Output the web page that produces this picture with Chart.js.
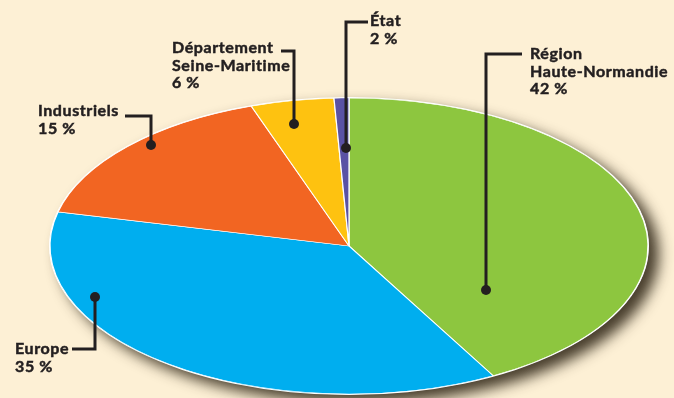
<!DOCTYPE html>
<html>
<head>
<meta charset="utf-8">
<script src="https://cdn.jsdelivr.net/npm/chart.js@4/dist/chart.umd.min.js"></script>
<style>
    body { margin: 0; background: #fdf0d5; }
    canvas { display: block; }
</style>
</head>
<body>
<canvas id="pieChart" width="674" height="398"></canvas>
<script>
//Data
const sources = [['Région', 'Haute-Normandie'], ['Europe'], ['Industriels'], ['Département', 'Seine-Maritime'], ['État']];
const percents = [42, 35, 15, 6, 2];
//slice sizes as drawn in the picture (the printed % are rounded differently)
const shares = [42, 36.7, 16, 4.5, 0.8];
const colors = ['#8dc63f', '#00aeef', '#f26522', '#fec210', '#5a52a4'];

//Callouts: dot, elbow of the leader line, end of line, first text baseline
const callouts = [
    {dot: [486, 290], elbowY: 54, endX: 522, textX: 530, textY: 59},
    {dot: [95, 297], elbowY: 349, endX: 72, textX: 15, textY: 354},
    {dot: [151, 145], elbowY: 116, endX: 125, textX: 38, textY: 116},
    {dot: [294, 124], elbowY: 51, endX: 281, textX: 172, textY: 53},
    {dot: [346, 148], elbowY: 22, endX: 368, textX: 370, textY: 26}
];
const flatten = 148 / 299;
const ink = '#231f20';

const ellipsePlugin = {
    id: 'ellipse',
    beforeDatasetsDraw(chart) {
        let arc = chart.getDatasetMeta(0).data[0];
        let ctx = chart.ctx;
        let rx = arc.outerRadius;
        //shadow + white rim
        ctx.save();
        ctx.shadowColor = 'rgba(40, 30, 15, 0.85)';
        ctx.shadowBlur = 14;
        ctx.shadowOffsetX = 10;
        ctx.shadowOffsetY = 8;
        ctx.fillStyle = '#ffffff';
        ctx.beginPath();
        ctx.ellipse(arc.x, arc.y, rx + 1, rx * flatten + 1, 0, 0, Math.PI * 2);
        ctx.fill();
        ctx.restore();
        //squash the pie into an ellipse
        ctx.save();
        ctx.translate(arc.x, arc.y);
        ctx.scale(1, flatten);
        ctx.translate(-arc.x, -arc.y);
    },
    afterDatasetsDraw(chart) {
        chart.ctx.restore();
    },
    afterDraw(chart) {
        let ctx = chart.ctx;
        ctx.save();
        ctx.strokeStyle = ink;
        ctx.fillStyle = ink;
        ctx.lineWidth = 3;
        callouts.forEach(function (c) {
            ctx.beginPath();
            ctx.moveTo(c.dot[0], c.dot[1]);
            ctx.lineTo(c.dot[0], c.elbowY);
            ctx.lineTo(c.endX, c.elbowY);
            ctx.stroke();
            ctx.beginPath();
            ctx.arc(c.dot[0], c.dot[1], 5, 0, Math.PI * 2);
            ctx.fill();
        });
        //Labels
        ctx.font = 'bold 16px Lato';
        ctx.letterSpacing = '0.6px';
        ctx.lineWidth = 0.5;
        ctx.textBaseline = 'alphabetic';
        callouts.forEach(function (c, i) {
            let lines = sources[i].concat([percents[i] + ' %']);
            lines.forEach(function (t, j) {
                ctx.fillText(t, c.textX, c.textY + j * 17.5);
                ctx.strokeText(t, c.textX, c.textY + j * 17.5);
            });
        });
        ctx.restore();
    }
};

function createChart() {
    let ctx = document.getElementById('pieChart');
    new Chart(ctx, {
        type: 'pie',
        data: {
            labels: sources.map(s => s.join(' ')),
            datasets: [{
                data: shares,
                backgroundColor: colors,
                borderColor: '#ffffff',
                borderWidth: 1.2,
                clip: false
            }]
        },
        options: {
            responsive: false,
            animation: false,
            devicePixelRatio: 1,
            radius: 299,
            layout: {padding: {left: 24, right: 0, top: 94, bottom: 0}},
            plugins: {
                legend: {display: false},
                tooltip: {enabled: false}
            }
        },
        plugins: [ellipsePlugin]
    });
}

createChart();
</script>
</body>
</html>
